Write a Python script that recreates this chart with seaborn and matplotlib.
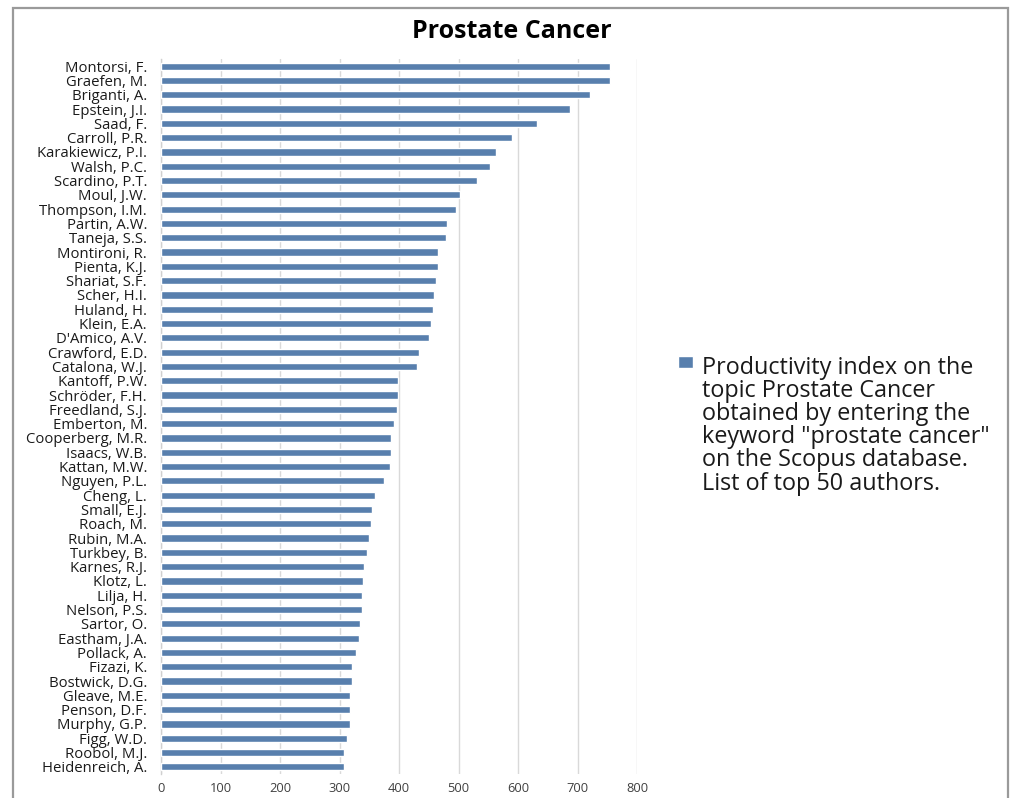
import matplotlib
matplotlib.use("Agg")
import matplotlib.pyplot as plt
from matplotlib.offsetbox import HPacker
from matplotlib.patches import Rectangle
import seaborn as sns
import pandas as pd

authors = [
    "Montorsi, F.", "Graefen, M.", "Briganti, A.", "Epstein, J.I.", "Saad, F.",
    "Carroll, P.R.", "Karakiewicz, P.I.", "Walsh, P.C.", "Scardino, P.T.", "Moul, J.W.",
    "Thompson, I.M.", "Partin, A.W.", "Taneja, S.S.", "Montironi, R.", "Pienta, K.J.",
    "Shariat, S.F.", "Scher, H.I.", "Huland, H.", "Klein, E.A.", "D'Amico, A.V.",
    "Crawford, E.D.", "Catalona, W.J.", "Kantoff, P.W.", "Schröder, F.H.", "Freedland, S.J.",
    "Emberton, M.", "Cooperberg, M.R.", "Isaacs, W.B.", "Kattan, M.W.", "Nguyen, P.L.",
    "Cheng, L.", "Small, E.J.", "Roach, M.", "Rubin, M.A.", "Turkbey, B.",
    "Karnes, R.J.", "Klotz, L.", "Lilja, H.", "Nelson, P.S.", "Sartor, O.",
    "Eastham, J.A.", "Pollack, A.", "Fizazi, K.", "Bostwick, D.G.", "Gleave, M.E.",
    "Penson, D.F.", "Murphy, G.P.", "Figg, W.D.", "Roobol, M.J.", "Heidenreich, A.",
]
documents = [
    754, 754, 721, 688, 632,
    590, 563, 553, 531, 502,
    495, 481, 479, 465, 465,
    463, 459, 457, 453, 451,
    433, 431, 399, 399, 397,
    392, 387, 386, 385, 375,
    360, 355, 353, 350, 347,
    342, 340, 338, 337, 334,
    333, 328, 321, 321, 317,
    317, 317, 312, 308, 307,
]
x_ticks = [0, 100, 200, 300, 400, 500, 600, 700, 800]

title = "Prostate Cancer"
series_label = ("Productivity index on the\n"
                "topic Prostate Cancer\n"
                "obtained by entering the\n"
                "keyword \"prostate cancer\"\n"
                "on the Scopus database.\n"
                "List of top 50 authors.")

df = pd.DataFrame({"author": authors, "documents": documents})

sns.set_theme(style="white")
plt.rcParams["font.family"] = ["Open Sans", "DejaVu Sans"]

W, H = 1011, 798
fig = plt.figure(figsize=(W / 100, H / 100), dpi=100)
fig.patch.set_facecolor("white")

left, right, top, bottom = 161, 637, 59, 774
ax = fig.add_axes([left / W, 1 - bottom / H, (right - left) / W, (bottom - top) / H])

bar_color = "#4A7EBB"
sns.barplot(data=df, x="documents", y="author", orient="h", color=bar_color,
            width=0.5, label=series_label, ax=ax, zorder=3)
if ax.get_legend() is not None:
    ax.get_legend().remove()

ax.set_xlim(0, 800)
ax.set_xticks(x_ticks)
ax.set_xticklabels([str(t) for t in x_ticks], fontsize=9.3, color="#404040")
ax.tick_params(axis="x", length=0, pad=6)
ax.tick_params(axis="y", length=0, pad=10, labelsize=10.7, labelcolor="#1a1a1a")
ax.set_xlabel("")
ax.set_ylabel("")
ax.grid(axis="x", color="#d9d9d9", linewidth=1, zorder=0)
ax.grid(axis="y", visible=False)
for side in ["top", "right", "bottom"]:
    ax.spines[side].set_visible(False)
ax.spines["left"].set_color("#d0d0d0")
ax.spines["left"].set_linewidth(1)

fig.text(512 / W, 1 - 31 / H, title, ha="center", va="center",
         fontsize=18, fontweight="bold", color="#000000")

handles, labels = ax.get_legend_handles_labels()
leg = fig.legend(handles, labels, loc="upper left", bbox_to_anchor=(678 / W, 1 - 356 / H),
                 frameon=False, fontsize=16.8, handlelength=0.65, handleheight=0.42,
                 handletextpad=0.4, labelspacing=0.0, borderpad=0, borderaxespad=0)
for t in leg.get_texts():
    t.set_linespacing(0.95)
    t.set_color("#1a1a1a")
for hp in leg.findobj(HPacker):
    hp.align = "top"

# outer chart frame
fig.patches.append(Rectangle((12.5 / W, -0.05), (1008 - 12.5) / W, 1.05 - 7.5 / H,
                             transform=fig.transFigure, fill=False,
                             edgecolor="#9a9a9a", linewidth=1.6, zorder=10))

fig.savefig("out.png", dpi=100)
